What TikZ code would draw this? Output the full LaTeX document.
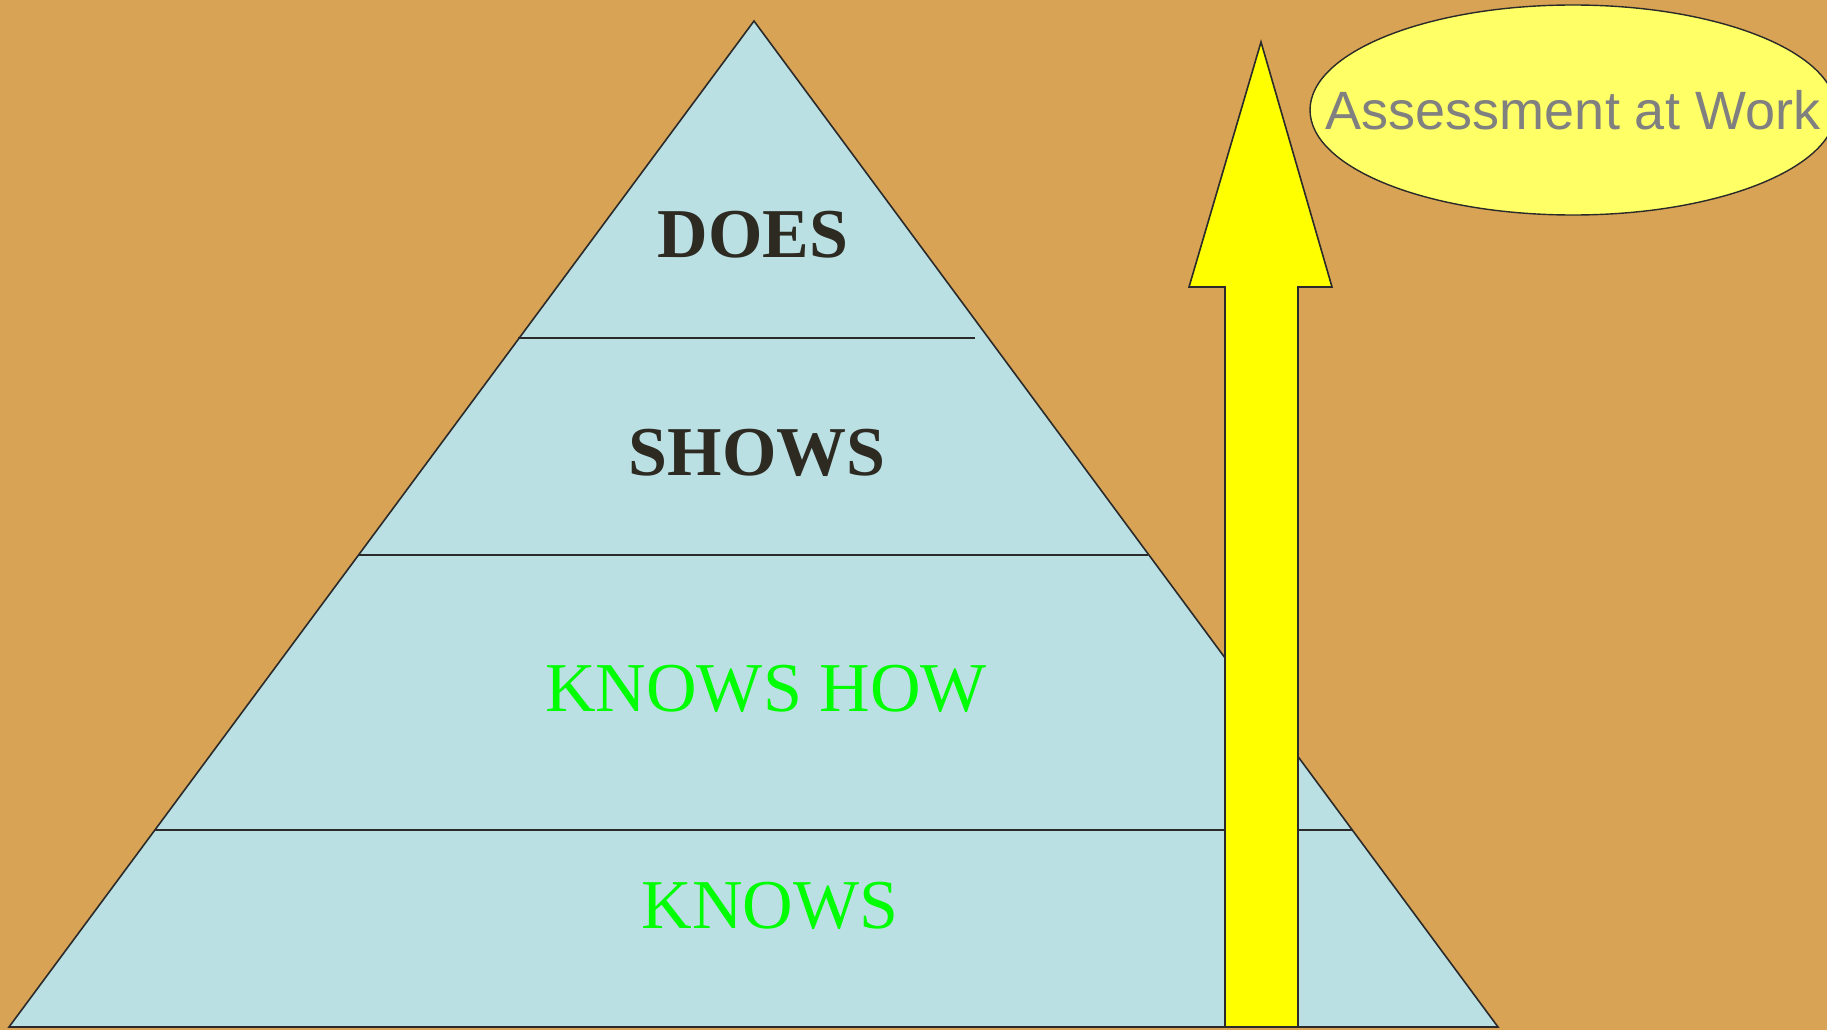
\documentclass[tikz,border=0pt]{standalone}
\usepackage{fontspec}
\setmainfont{Liberation Serif}
\newfontfamily\arialfont{Liberation Sans}
\definecolor{bgtan}{HTML}{D8A355}
\definecolor{pyrblue}{HTML}{BAE0E4}
\definecolor{darktext}{HTML}{2D2A22}
\definecolor{lightyellow}{HTML}{FFFF66}
\definecolor{arrowyellow}{HTML}{FFFF00}
\definecolor{greytext}{HTML}{808080}
\definecolor{brightgreen}{HTML}{00FF00}
\definecolor{edgecol}{HTML}{2A2A2A}
\begin{document}
\begin{tikzpicture}[x=1pt,y=-1pt,
  edge/.style={draw=edgecol,line width=1.6pt,line join=miter},
  boldlabel/.style={anchor=base,inner sep=0pt,text=darktext,font=\fontsize{70}{70}\selectfont\bfseries},
  greenlabel/.style={anchor=base,inner sep=0pt,text=brightgreen,font=\fontsize{70}{70}\selectfont}]
\useasboundingbox (0,0) rectangle (1827,1030);
\fill[bgtan] (0,0) rectangle (1827,1030);
% pyramid
\coordinate (apex) at (754,21);
\coordinate (bl) at (9,1027);
\coordinate (br) at (1498,1027);
\filldraw[fill=pyrblue,edge] (apex) -- (br) -- (bl) -- cycle;
\coordinate (l1a) at (518,338); \coordinate (l1b) at (975,338);
\coordinate (l2a) at (359,555); \coordinate (l2b) at (1148,555);
\coordinate (l3a) at (155,830); \coordinate (l3b) at (1352,830);
\draw[edge] (l1a) -- (l1b);
\draw[edge] (l2a) -- (l2b);
\draw[edge] (l3a) -- (l3b);
\node[boldlabel] (does) at (753,257) {DOES};
\node[boldlabel] (shows) at (757,475) {SHOWS};
\node[greenlabel] (knowshow) at (766,711) {KNOWS HOW};
\node[greenlabel] (knows) at (770,928) {KNOWS};
% arrow
\filldraw[fill=arrowyellow,edge] (1261,42) -- (1332,287) -- (1298,287) -- (1298,1027)
  -- (1225,1027) -- (1225,287) -- (1189,287) -- cycle;
% ellipse
\filldraw[fill=lightyellow,draw=edgecol,line width=1.4pt] (1573,110) ellipse [x radius=263, y radius=105];
\node[anchor=base,inner sep=0pt,text=greytext,font=\arialfont\fontsize{54}{54}\selectfont] (assess) at (1573,130) {Assessment at Work};
\end{tikzpicture}
\end{document}
